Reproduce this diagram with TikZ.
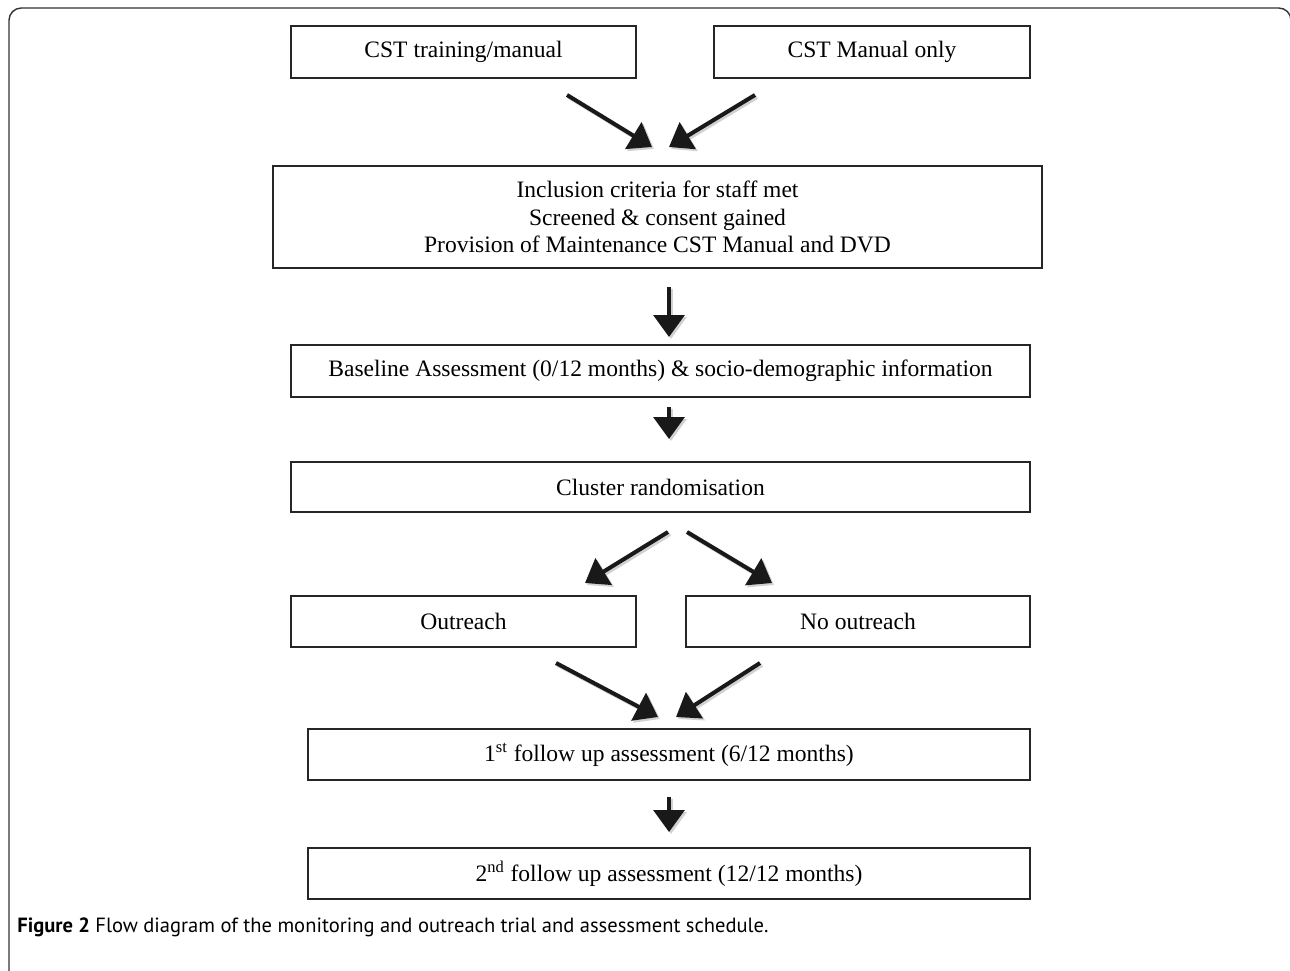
\documentclass[tikz,border=0pt]{standalone}
\usepackage{fontspec}
\setmainfont{Liberation Serif}
\newfontfamily\capfont{PT Sans}
\usetikzlibrary{arrows.meta}
\tikzset{
  box/.style={draw=black!85, line width=0.8pt, inner sep=0pt, outer sep=0pt, align=center,
    font=\fontsize{13.4pt}{15.6pt}\selectfont},
  bigarrow/.style={line width=2.3pt, black!90, -{Triangle[length=12.5pt,width=17.5pt]}},
  arrowshade/.style={line width=2.3pt, black!18, -{Triangle[length=12.5pt,width=17.5pt]}},
  frame/.style={draw=black!80, line width=0.8pt, rounded corners=7pt}
}
\begin{document}
\begin{tikzpicture}[x=0.02cm,y=-0.02cm]
\useasboundingbox (0,0) rectangle (1290,970);
\draw[frame] (9,1010) -- (9,8) -- (1291,8) -- (1291,1010);

\node[box, minimum width=6.9cm, minimum height=1.04cm] (b1) at (463.5,52) {CST training/manual};
\node[box, minimum width=6.32cm, minimum height=1.04cm] (b2) at (872,52) {CST Manual only};
\node[box, minimum width=15.38cm, minimum height=2.04cm] (b3) at (657.5,217) {Inclusion criteria for staff met\\Screened \& consent gained\\Provision of Maintenance CST Manual and DVD};
\node[box, minimum width=14.78cm, minimum height=1.04cm] (b4) at (660.5,371) {Baseline Assessment (0/12 months) \& socio-demographic information};
\node[box, minimum width=14.78cm, minimum height=1.0cm] (b5) at (660.5,487) {Cluster randomisation};
\node[box, minimum width=6.9cm, minimum height=1.02cm] (b6) at (463.5,621.5) {Outreach};
\node[box, minimum width=6.88cm, minimum height=1.02cm] (b7) at (858,621.5) {No outreach};
\node[box, minimum width=14.44cm, minimum height=1.02cm] (b8) at (669,754.5) {1\textsuperscript{st} follow up assessment (6/12 months)};
\node[box, minimum width=14.44cm, minimum height=1.02cm] (b9) at (669,873.5) {2\textsuperscript{nd} follow up assessment (12/12 months)};

\coordinate (a1s) at (567,95);  \coordinate (a1e) at (652,147);
\coordinate (a2s) at (755,95);  \coordinate (a2e) at (669,147);
\coordinate (a3s) at (669,287); \coordinate (a3e) at (669,337);
\coordinate (a4s) at (669,407); \coordinate (a4e) at (669,439);
\coordinate (a5s) at (668,532); \coordinate (a5e) at (585,583);
\coordinate (a6s) at (687,532); \coordinate (a6e) at (772,583);
\coordinate (a7s) at (556,663); \coordinate (a7e) at (658,717);
\coordinate (a8s) at (760,663); \coordinate (a8e) at (676,717);
\coordinate (a9s) at (669,797); \coordinate (a9e) at (669,832);

\foreach \i in {1,...,9} {\draw[arrowshade] ([shift={(2,2)}]a\i s) -- ([shift={(2,2)}]a\i e);}
\foreach \i in {1,...,9} {\draw[bigarrow] (a\i s) -- (a\i e);}

\node[anchor=west, inner sep=0pt, font=\capfont\fontsize{11.7pt}{13pt}\selectfont] (cap) at (17,927)
  {\textbf{Figure 2} Flow diagram of the monitoring and outreach trial and assessment schedule.};
\end{tikzpicture}
\end{document}
